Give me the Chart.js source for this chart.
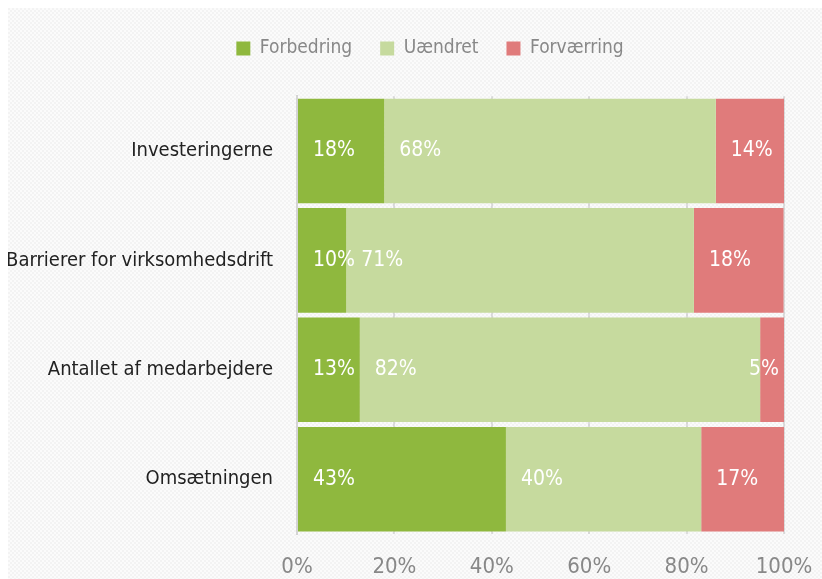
<!DOCTYPE html>
<html lang="da">
<head>
<meta charset="UTF-8">
<title>Forbedring / Uændret / Forværring</title>
<script src="https://cdn.jsdelivr.net/npm/chart.js@4.4.1/dist/chart.umd.min.js"></script>
<style>
  html, body { margin: 0; padding: 0; background: #fff; }
  #wrap { width: 822px; height: 579px; }
</style>
</head>
<body>
<div id="wrap"><canvas id="chart" width="822" height="579"></canvas></div>
<script>
const categories = ['Investeringerne', 'Barrierer for virksomhedsdrift', 'Antallet af medarbejdere', 'Omsætningen'];
const forbedring = [17.9, 10.1, 12.9, 42.9];
const uaendret = [68.1, 71.4, 82.2, 40.1];
const forvaerring = [14.0, 18.4, 4.9, 17.0];
const tickValues = [0, 20, 40, 60, 80, 100];

const FONT = "'DejaVu Sans Condensed', 'DejaVu Sans', sans-serif";

function makePattern(ctx) {
  const c = document.createElement('canvas');
  c.width = 4; c.height = 4;
  const p = c.getContext('2d');
  p.fillStyle = '#fbfbfb'; p.fillRect(0, 0, 4, 4);
  p.fillStyle = '#f3f3f3'; p.fillRect(0, 0, 2, 2); p.fillRect(2, 2, 2, 2);
  return ctx.createPattern(c, 'repeat');
}

const bgPlugin = {
  id: 'bg',
  beforeDraw(chart) {
    const ctx = chart.ctx;
    ctx.save();
    ctx.fillStyle = makePattern(ctx);
    ctx.fillRect(8, 8, chart.width - 8, chart.height - 8);
    ctx.restore();
  }
};

// the legend sits a bit right of the canvas centre in the original
const legendShift = {
  id: 'legendShift',
  afterLayout(chart) {
    if (chart.legend) chart.legend._shifted = false;
  },
  beforeDraw(chart) {
    const lg = chart.legend;
    if (!lg || lg._shifted) return;
    lg.left += 34;
    lg.right += 34;
    lg._shifted = true;
  }
};

// value labels inside each segment, clamped to the plot edge
const labelPlugin = {
  id: 'segLabels',
  afterDraw(chart) {
    const ctx = chart.ctx;
    const area = chart.chartArea;
    ctx.save();
    ctx.font = '21px ' + FONT;
    ctx.fillStyle = '#ffffff';
    ctx.textBaseline = 'middle';
    chart.data.datasets.forEach((ds, i) => {
      chart.getDatasetMeta(i).data.forEach((bar, j) => {
        const txt = Math.round(ds.data[j]) + '%';
        const w = ctx.measureText(txt).width;
        const start = Math.min(bar.x, bar.base);
        let x = start + 15;
        if (x + w > area.right - 5) x = area.right - 5 - w;
        ctx.fillText(txt, x, bar.y);
      });
    });
    ctx.restore();
  }
};

new Chart(document.getElementById('chart'), {
  type: 'bar',
  data: {
    labels: categories,
    datasets: [
      { label: 'Forbedring', data: forbedring, backgroundColor: '#8fb83e' },
      { label: 'Uændret', data: uaendret, backgroundColor: '#c6da9e' },
      { label: 'Forværring', data: forvaerring, backgroundColor: '#e07b7b' }
    ]
  },
  options: {
    indexAxis: 'y',
    responsive: false,
    animation: false,
    barPercentage: 0.955,
    categoryPercentage: 1,
    layout: { padding: { left: 8, right: 38, top: 11, bottom: 1 } },
    plugins: {
      tooltip: { enabled: false },
      legend: {
        position: 'top',
        labels: {
          boxWidth: 14, boxHeight: 14, padding: 28,
          color: '#888888',
          font: { family: FONT, size: 19 }
        }
      },
      subtitle: {
        display: true,
        text: ' ',
        weight: 500,
        font: { size: 1 },
        padding: { top: 0, bottom: 27 }
      }
    },
    scales: {
      x: {
        stacked: true,
        min: 0, max: 100,
        z: 1,
        afterBuildTicks(scale) { scale.ticks = tickValues.map(v => ({ value: v })); },
        afterFit(scale) { scale.paddingLeft = 0; scale.paddingRight = 0; scale.height = 44; },
        ticks: {
          color: '#888888',
          font: { family: FONT, size: 22 },
          padding: 20,
          maxRotation: 0,
          callback: v => v + '%'
        },
        grid: { color: 'rgba(120,120,120,0.22)', drawTicks: false, lineWidth: 2 },
        border: { display: false }
      },
      y: {
        stacked: true,
        afterFit(scale) { scale.width = 289; },
        ticks: {
          color: '#222222',
          font: { family: FONT, size: 20 },
          padding: 24
        },
        grid: { display: false, drawTicks: false },
        border: { display: true, color: '#d4d4d4', width: 2 }
      }
    }
  },
  plugins: [bgPlugin, legendShift, labelPlugin]
});
</script>
</body>
</html>
